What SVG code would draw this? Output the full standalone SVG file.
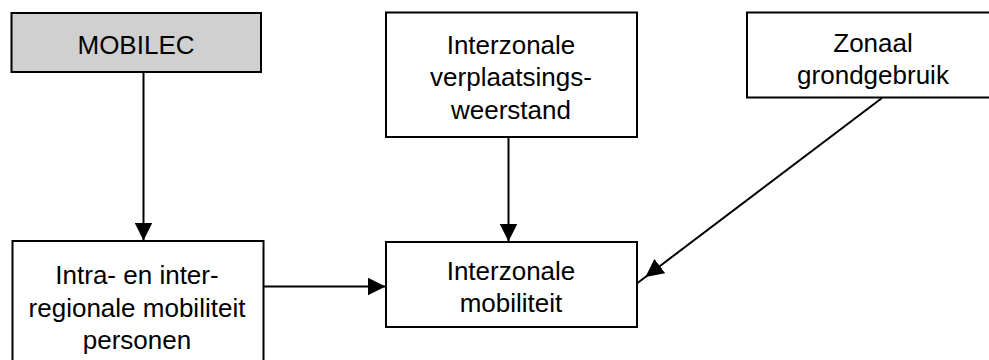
<svg xmlns="http://www.w3.org/2000/svg" width="989" height="360" viewBox="0 0 989 360">
  <style>
    .box { fill: #ffffff; stroke: #000000; stroke-width: 2; }
    .grey { fill: #d0d0d0; }
    .lbl { font-family: "Liberation Sans", Arial, sans-serif; font-size: 26px; fill: #000000; text-anchor: middle; }
    .conn { stroke: #000000; stroke-width: 2; fill: none; }
  </style>
  <defs>
    <marker id="arrow" markerUnits="userSpaceOnUse" viewBox="0 0 18 18" refX="18" refY="9" markerWidth="18" markerHeight="18" orient="auto">
      <path d="M0,0 L18,9 L0,18 z" fill="#000000"/>
    </marker>
    <marker id="arrowOff" markerUnits="userSpaceOnUse" viewBox="0 0 28 18" refX="28" refY="9" markerWidth="28" markerHeight="18" orient="auto">
      <path d="M0,0 L18,9 L0,18 z" fill="#000000"/>
    </marker>
  </defs>
  <rect width="989" height="360" fill="#ffffff"/>

  <g id="connectors">
    <line class="conn" x1="143.5" y1="72" x2="143.5" y2="240.5" marker-end="url(#arrow)"/>
    <line class="conn" x1="508.5" y1="137" x2="508.5" y2="241.5" marker-end="url(#arrow)"/>
    <line class="conn" x1="263" y1="286.5" x2="385.5" y2="286.5" marker-end="url(#arrow)"/>
    <line class="conn" x1="882" y1="98" x2="637.5" y2="283" marker-end="url(#arrowOff)"/>
  </g>

  <g id="mobilec">
    <rect class="box grey" x="11.5" y="13" width="249.5" height="59"/>
    <text class="lbl" x="136" y="53.5">MOBILEC</text>
  </g>

  <g id="verplaatsingsweerstand">
    <rect class="box" x="386" y="12.5" width="251" height="124.5"/>
    <text class="lbl" x="511" y="53.5">Interzonale</text>
    <text class="lbl" x="511" y="86">verplaatsings-</text>
    <text class="lbl" x="511" y="118.5">weerstand</text>
  </g>

  <g id="grondgebruik">
    <rect class="box" x="747" y="12.5" width="252" height="85"/>
    <text class="lbl" x="873" y="51.5">Zonaal</text>
    <text class="lbl" x="873" y="84">grondgebruik</text>
  </g>

  <g id="personen">
    <rect class="box" x="12.5" y="241" width="251" height="130"/>
    <text class="lbl" x="137" y="284">Intra- en inter-</text>
    <text class="lbl" x="137" y="316.5">regionale mobiliteit</text>
    <text class="lbl" x="137" y="349">personen</text>
  </g>

  <g id="interzonale-mobiliteit">
    <rect class="box" x="386" y="242" width="251" height="85"/>
    <text class="lbl" x="511" y="279.5">Interzonale</text>
    <text class="lbl" x="511" y="312">mobiliteit</text>
  </g>
</svg>
